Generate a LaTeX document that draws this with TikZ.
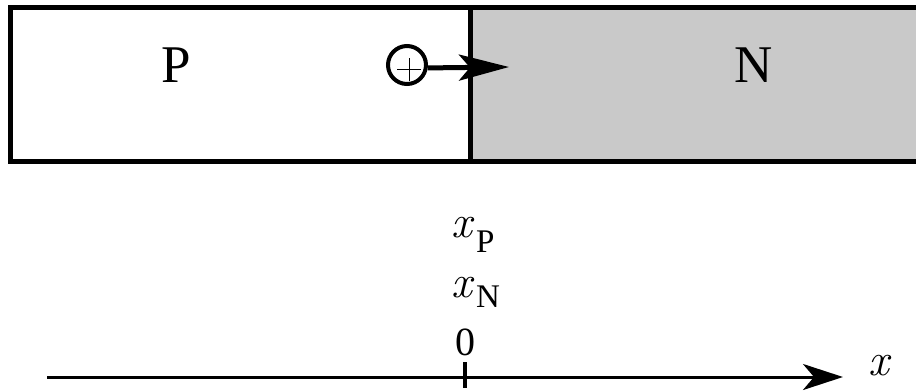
\documentclass[tikz,border=0pt]{standalone}
\usepackage{fontspec}
\setmainfont{Liberation Serif}
\newfontfamily\lmit{Latin Modern Roman}
\usetikzlibrary{arrows.meta}
\begin{document}
\begin{tikzpicture}[x=1pt,y=-1pt,
  border/.style={line width=5pt},
  region/.style={font=\fontsize{53}{55}\selectfont},
  lbl/.style={font=\fontsize{46}{48}\selectfont\lmit\itshape,inner sep=0pt,anchor=base west},
  subl/.style={font=\fontsize{33}{35}\selectfont,inner sep=0pt,anchor=base west},
  tip/.style={-{Stealth[length=#1,width=26pt,inset=11pt]}}]
\useasboundingbox (0,0) rectangle (916,391);
\fill[white] (0,0) rectangle (916,391);
% regions
\fill[gray!42] (470,7.5) rectangle (916,161);
\draw[border] (930,7.5) -- (10.5,7.5) -- (10.5,161) -- (930,161);
\draw[border] (470,7.5) -- (470,161);
\node[region] (P) at (176,65) {P};
\node[region] (N) at (754,65) {N};
% hole with arrow
\node[circle,draw,line width=4pt,minimum size=38pt,inner sep=0pt] (h) at (407,65) {};
\draw[line width=1pt] (397,69) -- (421,69) (409,58) -- (409,81);
\coordinate (ht) at (509,67);
\draw[line width=5pt,tip=50pt] (h.-8) -- (ht);
% axis
\coordinate (a0) at (47,377);
\coordinate (a1) at (843,377);
\draw[line width=3pt,tip=40pt] (a0) -- (a1);
\coordinate (t0) at (465,362);
\coordinate (t1) at (465,388);
\draw[line width=4pt] (t0) -- (t1);
\node[font=\fontsize{40}{42}\selectfont,inner sep=0pt,anchor=base] (zero) at (465,355) {0};
\node[lbl] (xn) at (451,297) {x};
\node[subl] (xns) at (476,307) {N};
\node[lbl] (xp) at (451,237) {x};
\node[subl] (xps) at (476,252) {P};
\node[lbl] (xl) at (868,375) {x};
\end{tikzpicture}
\end{document}
